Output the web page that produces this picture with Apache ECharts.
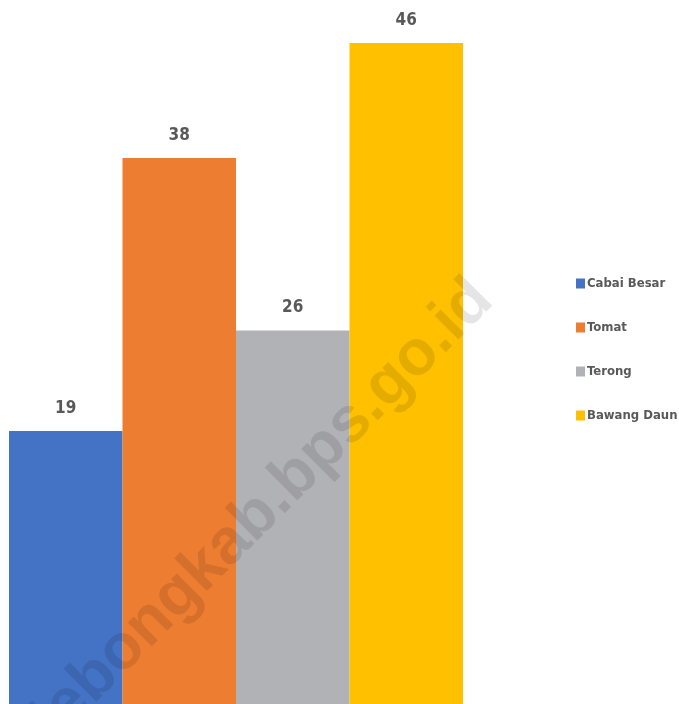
<!DOCTYPE html>
<html>
<head>
<meta charset="utf-8">
<script src="https://cdn.jsdelivr.net/npm/echarts@6/dist/echarts.min.js"></script>
<style>html,body{margin:0;padding:0;background:#fff;}#c{width:679px;height:704px;}</style>
</head>
<body>
<div id="c"></div>
<script>
var categories = ['2023'];
var seriesNames = ['Cabai Besar', 'Tomat', 'Terong', 'Bawang Daun'];
var cabaiBesar = [19];
var tomat = [38];
var terong = [26];
var bawangDaun = [46];
var colors = ['#4472C4', '#ED7D31', '#B1B2B6', '#FFC000'];
var FONT = '"DejaVu Sans Condensed", sans-serif';

var values = [cabaiBesar, tomat, terong, bawangDaun];
var chart = echarts.init(document.getElementById('c'));
chart.setOption({
  animation: false,
  color: colors,
  grid: { left: 9, right: 216, top: 0, bottom: -5, containLabel: false },
  xAxis: { type: 'category', data: categories, show: false },
  yAxis: { type: 'value', min: 0, max: 49, show: false },
  legend: {
    orient: 'vertical', left: 571, top: 272, itemGap: 31,
    itemWidth: 9, itemHeight: 10, icon: 'rect',
    textStyle: { color: '#595959', fontWeight: 'bold', fontSize: 13, fontFamily: FONT, padding: [0,0,0,-3] },
    data: seriesNames
  },
  series: seriesNames.map(function (n, i) {
    return {
      name: n, type: 'bar', data: values[i],
      barGap: '0%', barCategoryGap: '0%',
      label: { show: true, position: 'top', distance: 14, color: '#595959', fontWeight: 'bold', fontSize: 17, fontFamily: FONT }
    };
  }),
  graphic: [{
    type: 'text', x: 263, y: 510, rotation: Math.PI / 4,
    style: {
      text: 'lebongkab.bps.go.id', fill: 'rgba(0,0,0,0.1)',
      font: 'bold 64px "Liberation Sans", Arial, sans-serif',
      align: 'center', verticalAlign: 'middle'
    },
    z: 100
  }]
});
</script>
</body>
</html>
